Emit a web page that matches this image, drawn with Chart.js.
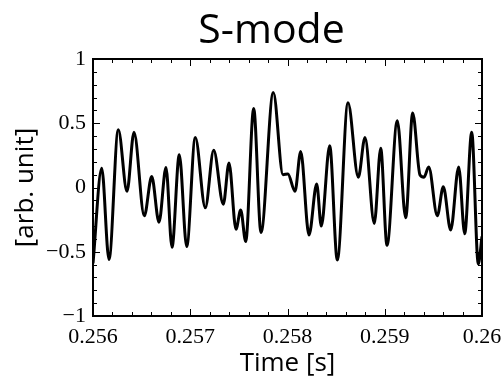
<!DOCTYPE html>
<html lang="en">
<head>
  <meta charset="UTF-8" />
  <title>S-mode</title>
  <script src="https://cdn.jsdelivr.net/npm/chart.js"></script>
  <style>
    html, body { margin: 0; padding: 0; background: #fff; }
  </style>
</head>
<body>
  <canvas id="smode" width="501" height="379"></canvas>

<script>
  const titleText = 'S-mode';
  const xLabel = 'Time [s]';
  const yLabel = '[arb. unit]';

  // major tick values (minor ticks are 5 per major interval)
  const xTicks = [0.256, 0.257, 0.258, 0.259, 0.26];
  const yTicks = [-1, -0.5, 0, 0.5, 1];

  // signal, mostly the turning points
  const times = [
    0.256, 0.2560895, 0.2561645, 0.2562602, 0.2563496, 0.2564216, 0.2565275,
    0.2566036, 0.2566787, 0.2567506, 0.2568123, 0.2568874, 0.2569635, 0.2570519,
    0.2571548, 0.2572411, 0.2573398, 0.2573985, 0.2574704, 0.2575188, 0.2575702,
    0.2576524, 0.2577275, 0.257854, 0.2579537, 0.2580041, 0.2580771, 0.2581357,
    0.2582211, 0.2583003, 0.2583476, 0.2584339, 0.2585121, 0.2586221, 0.258728,
    0.258797, 0.2588925, 0.2589584, 0.2590231, 0.259129, 0.2592154, 0.2592874,
    0.2593625, 0.2594036, 0.2594519, 0.2595404, 0.259602, 0.2596781, 0.2597604,
    0.2598221, 0.2598941, 0.259962, 0.26
  ];
  const signal = [
    -0.59, 0.15, -0.56, 0.45, -0.03, 0.43, -0.22,
    0.085, -0.27, 0.155, -0.465, 0.255, -0.46, 0.39,
    -0.157, 0.29, -0.13, 0.19, -0.325, -0.175, -0.42,
    0.615, -0.35, 0.74, 0.10, 0.105, -0.03, 0.28,
    -0.37, 0.027, -0.30, 0.325, -0.565, 0.66, 0.08,
    0.39, -0.28, 0.305, -0.45, 0.52, -0.235, 0.58,
    0.097, 0.08, 0.16, -0.22, 0.006, -0.33, 0.16,
    -0.36, 0.43, -0.595, -0.38
  ];

  function fmt(v) {
    return v < 0 ? '\u2212' + (-v) : String(v);
  }

  // inward ticks on all four sides plus the box
  const frameTicks = {
    id: 'frameTicks',
    afterDatasetsDraw(chart) {
      const { ctx, chartArea: a, scales: { x, y } } = chart;
      ctx.save();
      ctx.strokeStyle = '#000';
      ctx.lineWidth = 1;
      ctx.beginPath();
      for (let i = 0; i < xTicks.length; i++) {
        for (let k = 0; k < 5; k++) {
          if (i === xTicks.length - 1 && k > 0) break;
          const v = xTicks[i] + (k > 0 ? (xTicks[i + 1] - xTicks[i]) * k / 5 : 0);
          const px = Math.round(x.getPixelForValue(v)) + 0.5;
          const len = k === 0 ? 7 : 4;
          ctx.moveTo(px, a.bottom); ctx.lineTo(px, a.bottom - len);
          ctx.moveTo(px, a.top); ctx.lineTo(px, a.top + len);
        }
      }
      for (let i = 0; i < yTicks.length; i++) {
        for (let k = 0; k < 5; k++) {
          if (i === yTicks.length - 1 && k > 0) break;
          const v = yTicks[i] + (k > 0 ? (yTicks[i + 1] - yTicks[i]) * k / 5 : 0);
          const py = Math.round(y.getPixelForValue(v)) + 0.5;
          const len = k === 0 ? 7 : 4;
          ctx.moveTo(a.left, py); ctx.lineTo(a.left + len, py);
          ctx.moveTo(a.right, py); ctx.lineTo(a.right - len, py);
        }
      }
      ctx.stroke();
      ctx.lineWidth = 2;
      ctx.strokeRect(a.left, a.top, a.right - a.left, a.bottom - a.top);

      // title, sits a little left of the plot centre like the original
      ctx.fillStyle = '#000';
      ctx.font = '41px "Open Sans"';
      ctx.textAlign = 'center';
      ctx.textBaseline = 'alphabetic';
      ctx.fillText(titleText, (a.left + a.right) / 2 - 16, 43);
      ctx.restore();
    }
  };

  new Chart(document.getElementById('smode'), {
    type: 'line',
    data: {
      datasets: [{
        data: times.map((t, i) => ({ x: t, y: signal[i] })),
        borderColor: '#000',
        borderWidth: 3,
        pointRadius: 0,
        fill: false,
        cubicInterpolationMode: 'monotone'
      }]
    },
    options: {
      responsive: false,
      animation: false,
      devicePixelRatio: 1,
      layout: { padding: { top: 59, right: 19, left: 0, bottom: 0 } },
      plugins: {
        legend: { display: false },
        tooltip: { enabled: false }
      },
      scales: {
        x: {
          type: 'linear',
          min: 0.256,
          max: 0.26,
          afterBuildTicks: s => { s.ticks = xTicks.map(v => ({ value: v })); },
          afterFit: s => { s.height = 63; s.paddingLeft = 0; s.paddingRight = 0; },
          ticks: {
            callback: v => fmt(v),
            font: { family: 'Liberation Serif', size: 22 },
            color: '#000',
            maxRotation: 0,
            autoSkip: false,
            padding: 8
          },
          grid: { display: false, drawTicks: false },
          border: { display: false },
          title: {
            display: true,
            text: xLabel,
            color: '#000',
            font: { family: 'Open Sans', size: 26 },
            padding: { top: 0, bottom: 0 }
          }
        },
        y: {
          min: -1,
          max: 1,
          afterBuildTicks: s => { s.ticks = yTicks.map(v => ({ value: v })); },
          afterFit: s => { s.width = 93; s.paddingTop = 0; s.paddingBottom = 0; },
          ticks: {
            callback: v => fmt(v),
            font: { family: 'Liberation Serif', size: 22 },
            color: '#000',
            padding: 7
          },
          grid: { display: false, drawTicks: false },
          border: { display: false },
          title: {
            display: true,
            text: yLabel,
            color: '#000',
            font: { family: 'Open Sans', size: 26 },
            padding: { top: 10, bottom: 0 }
          }
        }
      }
    },
    plugins: [frameTicks]
  });
</script>
</body>
</html>
